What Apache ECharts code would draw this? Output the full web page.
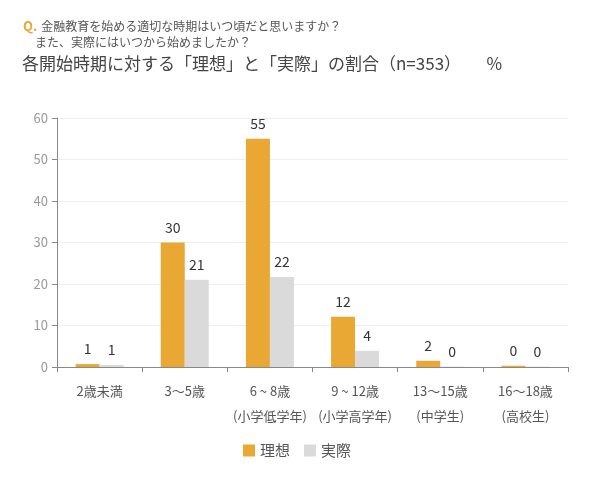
<!DOCTYPE html>
<html>
<head>
<meta charset="utf-8">
<script src="https://cdn.jsdelivr.net/npm/echarts@6/dist/echarts.min.js"></script>
<style>
  html, body { margin: 0; padding: 0; background: #fff; }
  #main { width: 594px; height: 485px; }
</style>
</head>
<body>
<div id="main"></div>
<script>
var categories = ['2歳未満', '3～5歳', '6 ~ 8歳\n(小学低学年)', '9 ~ 12歳\n(小学高学年)', '13～15歳\n(中学生)', '16～18歳\n(高校生)'];
var idealValues = [0.7, 30, 55, 12.1, 1.5, 0.3];
var actualValues = [0.5, 21, 21.7, 3.9, 0.1, 0.1];
var seriesNames = ['理想', '実際'];

var font = '"Noto Sans CJK JP", "Noto Sans", sans-serif';
var dom = document.getElementById('main');
var myChart = echarts.init(dom);

var labelStyle = {
    show: true,
    position: 'top',
    distance: 8,
    color: '#333',
    fontSize: 14,
    fontWeight: 'normal',
    fontFamily: font,
    formatter: function (p) { return Math.round(p.value); }
};

var option = {
    backgroundColor: '#fff',
    textStyle: { fontFamily: font },
    title: [
        {
            left: 18,
            top: 13,
            text: '{q|Q.} {t|金融教育を始める適切な時期はいつ頃だと思いますか？}\n{s|}{t|また、実際にはいつから始めましたか？}',
            textStyle: {
                lineHeight: 16,
                fontWeight: 'normal',
                rich: {
                    q: { color: '#E9A733', fontWeight: 'bold', fontSize: 13, fontFamily: font },
                    t: { color: '#555', fontSize: 12, fontWeight: 'normal', fontFamily: font },
                    s: { width: 12 }
                }
            }
        },
        {
            left: 17,
            top: 50,
            text: '各開始時期に対する「理想」と「実際」の割合（n=353）　　%',
            textStyle: { color: '#444', fontSize: 17, fontWeight: 'normal', fontFamily: font }
        }
    ],
    legend: {
        bottom: 22,
        left: 'center',
        itemWidth: 12,
        itemHeight: 12,
        itemGap: 14,
        icon: 'rect',
        data: seriesNames,
        textStyle: { color: '#555', fontSize: 15, fontFamily: font }
    },
    grid: { left: 57, right: 26, top: 118, bottom: 118 },
    xAxis: {
        type: 'category',
        data: categories,
        axisLine: { lineStyle: { color: '#888' } },
        axisTick: { show: true, length: 5, lineStyle: { color: '#888' } },
        axisLabel: { interval: 0, color: '#555', fontSize: 13, lineHeight: 25, margin: 12, fontFamily: font }
    },
    yAxis: {
        type: 'value',
        min: 0,
        max: 60,
        interval: 10,
        axisLine: { show: true, lineStyle: { color: '#888' } },
        axisTick: { show: true, length: 5, lineStyle: { color: '#888' } },
        axisLabel: { color: '#999', fontSize: 13, margin: 9, fontFamily: font },
        splitLine: { lineStyle: { color: '#EEEEEE' } }
    },
    series: [
        {
            name: seriesNames[0],
            type: 'bar',
            data: idealValues,
            barWidth: 24,
            barGap: '0%',
            itemStyle: { color: '#E9A733' },
            label: labelStyle
        },
        {
            name: seriesNames[1],
            type: 'bar',
            data: actualValues,
            barWidth: 24,
            barGap: '0%',
            itemStyle: { color: '#DADADA' },
            label: labelStyle
        }
    ]
};
myChart.setOption(option);
</script>
</body>
</html>
